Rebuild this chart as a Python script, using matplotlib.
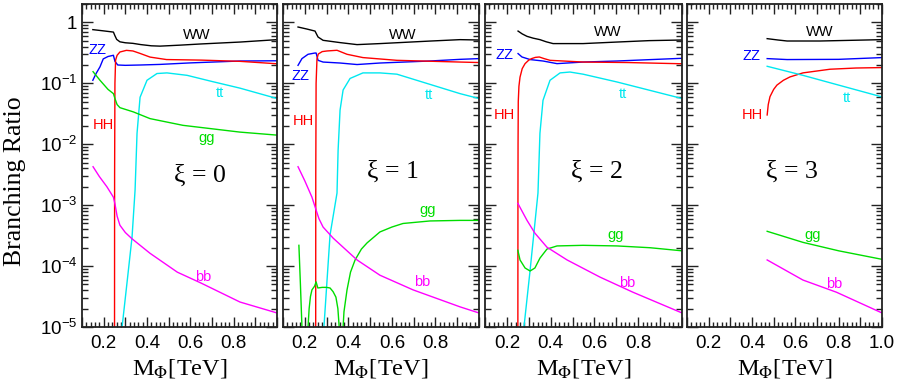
import matplotlib
matplotlib.use("Agg")
import matplotlib.pyplot as plt
from matplotlib.ticker import FixedLocator, MultipleLocator, FuncFormatter, LogLocator, NullFormatter
from matplotlib.font_manager import FontProperties

plt.rcParams['font.family'] = ['Liberation Sans', 'DejaVu Sans']
plt.rcParams['mathtext.fontset'] = 'custom'
plt.rcParams['mathtext.rm'] = 'Liberation Sans'
plt.rcParams['mathtext.it'] = 'Liberation Sans:italic'

# ---------------- data: xi = 0 ----------------
m0_ww = [0.15, 0.20, 0.245, 0.252, 0.26, 0.275, 0.30, 0.335, 0.37, 0.42, 0.46, 0.55, 0.65, 0.83, 1.0]
br0_ww = [0.759, 0.724, 0.692, 0.603, 0.525, 0.479, 0.462, 0.452, 0.432, 0.412, 0.407, 0.422, 0.442, 0.475, 0.52]
m0_zz = [0.15, 0.165, 0.183, 0.198, 0.22, 0.245, 0.252, 0.265, 0.30, 0.37, 0.46, 0.6, 0.83, 1.0]
br0_zz = [0.112, 0.1445, 0.186, 0.251, 0.275, 0.288, 0.229, 0.1995, 0.197, 0.1995, 0.204, 0.216, 0.232, 0.234]
m0_hh = [0.25, 0.2505, 0.252, 0.255, 0.262, 0.275, 0.305, 0.335, 0.368, 0.414, 0.49, 0.65, 0.83, 1.0]
br0_hh = [1e-6, 3.16e-3, 0.1, 0.24, 0.288, 0.326, 0.347, 0.339, 0.309, 0.269, 0.245, 0.24, 0.229, 0.209]
m0_tt = [0.285, 0.31, 0.331, 0.345, 0.354, 0.368, 0.40, 0.446, 0.492, 0.585, 0.70, 0.829, 1.0]
br0_tt = [1e-5, 6.3e-5, 3.0e-4, 1.78e-3, 0.0151, 0.0589, 0.112, 0.1445, 0.148, 0.135, 0.107, 0.0832, 0.0562]
m0_gg = [0.151, 0.183, 0.22, 0.245, 0.252, 0.262, 0.275, 0.337, 0.414, 0.566, 0.829, 1.0]
br0_gg = [0.155, 0.112, 0.0794, 0.0676, 0.0562, 0.0447, 0.0398, 0.0339, 0.0263, 0.0204, 0.0158, 0.0141]
m0_bb = [0.151, 0.18, 0.215, 0.245, 0.252, 0.262, 0.275, 0.30, 0.33, 0.414, 0.54, 0.65, 0.829, 1.0]
br0_bb = [4.27e-3, 2.95e-3, 2.0e-3, 1.35e-3, 1.05e-3, 6.6e-4, 4.68e-4, 3.55e-4, 2.82e-4, 1.62e-4, 7.94e-5, 5.25e-5, 2.57e-5, 1.7e-5]

# ---------------- data: xi = 1 ----------------
m1_ww = [0.169, 0.21, 0.247, 0.255, 0.261, 0.284, 0.362, 0.44, 0.545, 0.775, 0.913, 1.0]
br1_ww = [0.838, 0.776, 0.719, 0.631, 0.574, 0.507, 0.465, 0.431, 0.448, 0.493, 0.52, 0.513]
m1_zz = [0.169, 0.187, 0.215, 0.245, 0.252, 0.261, 0.284, 0.362, 0.44, 0.545, 0.775, 0.913, 1.0]
br1_zz = [0.197, 0.254, 0.299, 0.313, 0.314, 0.238, 0.223, 0.215, 0.203, 0.215, 0.232, 0.247, 0.254]
m1_hh = [0.25, 0.2505, 0.252, 0.256, 0.262, 0.28, 0.302, 0.348, 0.394, 0.467, 0.623, 0.913, 1.0]
br1_hh = [1e-6, 3.16e-3, 0.1, 0.251, 0.302, 0.331, 0.339, 0.348, 0.299, 0.264, 0.238, 0.223, 0.219]
m1_tt = [0.288, 0.316, 0.348, 0.353, 0.362, 0.376, 0.408, 0.467, 0.545, 0.623, 0.913, 1.0]
br1_tt = [1e-5, 3.24e-4, 1.58e-3, 7.94e-3, 0.0363, 0.0776, 0.120, 0.148, 0.148, 0.141, 0.0676, 0.0562]
m1_gg = [0.173, 0.18, 0.187, 0.20, 0.215, 0.22, 0.226, 0.233, 0.245, 0.252, 0.26, 0.28, 0.30, 0.316,
         0.33, 0.343, 0.352, 0.358, 0.365, 0.376, 0.38, 0.394, 0.41, 0.431, 0.46, 0.486, 0.545, 0.60,
         0.651, 0.775, 0.913, 1.0]
br1_gg = [2.19e-4, 5.0e-5, 1e-5, 1e-7, 1e-5, 2.0e-5, 3.16e-5, 4.07e-5, 4.68e-5, 5.5e-5, 4.37e-5, 4.47e-5,
          4.47e-5, 4.37e-5, 3.8e-5, 3.09e-5, 2.0e-5, 1e-5, 1e-7, 1e-5, 1.78e-5, 4.07e-5, 7.94e-5,
          1.26e-4, 1.9e-4, 2.4e-4, 3.63e-4, 4.37e-4, 5.0e-4, 5.5e-4, 5.62e-4, 5.62e-4]
m1_bb = [0.169, 0.20, 0.233, 0.252, 0.265, 0.284, 0.33, 0.44, 0.545, 0.697, 0.913, 1.0]
br1_bb = [4.27e-3, 2.51e-3, 1.35e-3, 8.3e-4, 6.0e-4, 4.37e-4, 2.88e-4, 1.26e-4, 7.08e-5, 4.07e-5, 2.14e-5, 1.7e-5]

# ---------------- data: xi = 2 ----------------
m2_ww = [0.251, 0.27, 0.292, 0.32, 0.351, 0.38, 0.411, 0.548, 0.703, 0.85, 1.0]
br2_ww = [0.719, 0.646, 0.589, 0.55, 0.52, 0.479, 0.448, 0.448, 0.475, 0.501, 0.513]
m2_zz = [0.251, 0.269, 0.306, 0.365, 0.429, 0.548, 0.703, 1.0]
br2_zz = [0.307, 0.27, 0.245, 0.232, 0.21, 0.223, 0.232, 0.257]
m2_hh = [0.250, 0.2505, 0.251, 0.252, 0.255, 0.26, 0.27, 0.283, 0.30, 0.313, 0.33, 0.348, 0.37, 0.397, 0.55, 0.75, 1.0]
br2_hh = [1e-6, 1e-3, 0.01, 0.0501, 0.0891, 0.126, 0.174, 0.21, 0.24, 0.254, 0.266, 0.27, 0.254, 0.238, 0.223, 0.219, 0.209]
m2_tt = [0.278, 0.306, 0.342, 0.351, 0.365, 0.397, 0.443, 0.488, 0.548, 0.703, 1.0]
br2_tt = [1e-5, 8.5e-5, 1.58e-3, 0.0151, 0.0525, 0.112, 0.148, 0.153, 0.141, 0.105, 0.0562]
m2_gg = [0.25, 0.26, 0.283, 0.306, 0.328, 0.351, 0.383, 0.429, 0.548, 0.703, 0.854, 1.0]
br2_gg = [1.82e-4, 1.26e-4, 9.3e-5, 8.3e-5, 9.3e-5, 1.35e-4, 1.9e-4, 2.14e-4, 2.19e-4, 2.14e-4, 2.0e-4, 1.78e-4]
m2_bb = [0.25, 0.292, 0.328, 0.383, 0.475, 0.625, 0.776, 1.0]
br2_bb = [1.07e-3, 5.62e-4, 3.47e-4, 2.04e-4, 1.26e-4, 6.6e-5, 3.72e-5, 1.7e-5]

# ---------------- data: xi = 3 ----------------
m3_ww = [0.47, 0.52, 0.562, 0.714, 1.0]
br3_ww = [0.54, 0.513, 0.494, 0.494, 0.52]
m3_zz = [0.47, 0.562, 0.80, 1.0]
br3_zz = [0.254, 0.245, 0.247, 0.264]
m3_hh = [0.47, 0.475, 0.483, 0.50, 0.515, 0.545, 0.575, 0.635, 0.76, 0.88, 1.0]
br3_hh = [0.0302, 0.0447, 0.0603, 0.0794, 0.0933, 0.112, 0.127, 0.148, 0.17, 0.178, 0.181]
m3_tt = [0.47, 0.635, 0.80, 1.0]
br3_tt = [0.19, 0.135, 0.0933, 0.0597]
m3_gg = [0.47, 0.635, 0.80, 1.0]
br3_gg = [3.72e-4, 2.45e-4, 1.78e-4, 1.29e-4]
m3_bb = [0.47, 0.635, 0.79, 1.0]
br3_bb = [1.26e-4, 5.9e-5, 3.72e-5, 1.7e-5]

xi_labels = [r"ξ = 0", r"ξ = 1", r"ξ = 2", r"ξ = 3"]
channel_names = ["WW", "ZZ", "HH", "tt", "gg", "bb"]
channel_colors = ["black", "#0000ff", "#ff0000", "#00e8f0", "#00dd00", "#ff00ff"]
ytick_vals = [1e-5, 1e-4, 1e-3, 1e-2, 1e-1, 1]
ytick_text = [r"$10^{-5}$", r"$10^{-4}$", r"$10^{-3}$", r"$10^{-2}$", r"$10^{-1}$", "1"]

panel_data = [
    [(m0_ww, br0_ww), (m0_zz, br0_zz), (m0_hh, br0_hh), (m0_tt, br0_tt), (m0_gg, br0_gg), (m0_bb, br0_bb)],
    [(m1_ww, br1_ww), (m1_zz, br1_zz), (m1_hh, br1_hh), (m1_tt, br1_tt), (m1_gg, br1_gg), (m1_bb, br1_bb)],
    [(m2_ww, br2_ww), (m2_zz, br2_zz), (m2_hh, br2_hh), (m2_tt, br2_tt), (m2_gg, br2_gg), (m2_bb, br2_bb)],
    [(m3_ww, br3_ww), (m3_zz, br3_zz), (m3_hh, br3_hh), (m3_tt, br3_tt), (m3_gg, br3_gg), (m3_bb, br3_bb)],
]

# label positions (axes fractions) per panel: WW, ZZ, HH, tt, gg, bb, xi
label_pos = [
    [(0.59, 0.904), (0.082, 0.858), (0.108, 0.625), (0.708, 0.724), (0.641, 0.585), (0.62, 0.155), (0.605, 0.47)],
    [(0.612, 0.904), (0.087, 0.777), (0.102, 0.638), (0.745, 0.718), (0.74, 0.362), (0.709, 0.139), (0.561, 0.48)],
    [(0.624, 0.913), (0.10, 0.842), (0.10, 0.656), (0.70, 0.721), (0.665, 0.285), (0.721, 0.136), (0.569, 0.48)],
    [(0.682, 0.913), (0.333, 0.839), (0.333, 0.656), (0.82, 0.709), (0.646, 0.285), (0.754, 0.133), (0.538, 0.48)],
]

W, H = 900, 390
fig = plt.figure(figsize=(W / 100, H / 100), dpi=100)
panels_px = [(82, 195), (283, 196), (485, 197), (687, 195)]
top_px, bot_px = 4, 327

serif_big = FontProperties(family=['Liberation Serif', 'DejaVu Serif'], size=17.5, math_fontfamily='stix')
serif_ylab = FontProperties(family=['Liberation Serif', 'DejaVu Serif'], size=18.5)

for i, (l, w) in enumerate(panels_px):
    ax = fig.add_axes([l / W, (H - bot_px) / H, w / W, (bot_px - top_px) / H])
    ax.set_yscale('log')
    for (mm, bb), col in zip(panel_data[i], channel_colors):
        ax.plot(mm, bb, color=col, lw=1.0)
    ax.set_xlim(0.1, 1.0)
    ax.set_ylim(1e-5, 2.0)

    ax.xaxis.set_major_locator(MultipleLocator(0.1))
    ax.xaxis.set_minor_locator(MultipleLocator(0.02))
    show = {2, 4, 6, 8} if i < 3 else {2, 4, 6, 8, 10}
    ax.xaxis.set_major_formatter(FuncFormatter(
        lambda v, p, s=show: (f"{v:.1f}" if int(round(v * 10)) in s else "")))
    ax.yaxis.set_major_locator(FixedLocator(ytick_vals))
    ax.yaxis.set_minor_locator(LogLocator(base=10, subs=range(2, 10), numticks=20))
    ax.yaxis.set_minor_formatter(NullFormatter())
    if i == 0:
        ax.set_yticklabels(ytick_text)
    else:
        ax.set_yticklabels([])
    ax.tick_params(axis='both', which='both', direction='in', top=True, right=True, labelsize=13.5,
                   width=1.0, colors='#222222', labelcolor='black')
    ax.tick_params(axis='y', which='major', length=8)
    ax.tick_params(axis='y', which='minor', length=4)
    ax.tick_params(axis='x', which='major', length=7, pad=6)
    ax.tick_params(axis='x', which='minor', length=3.5)
    for sp in ax.spines.values():
        sp.set_linewidth(1.3)
        sp.set_color('#222222')

    ax.set_xlabel(r"M$_\Phi$[TeV]", fontproperties=serif_big, labelpad=3)

    for name, col, (fx, fy) in zip(channel_names, channel_colors, label_pos[i][:6]):
        ax.text(fx, fy, name, color=col, fontsize=10.5, ha='center', va='center', transform=ax.transAxes)
    fx, fy = label_pos[i][6]
    ax.text(fx, fy, xi_labels[i], fontproperties=FontProperties(family=['Liberation Serif', 'DejaVu Serif'], size=18.5),
            ha='center', va='center', transform=ax.transAxes)

fig.text(15 / W, 1 - 181 / H, "Branching Ratio", fontproperties=serif_ylab, rotation=90,
         ha='center', va='center')

fig.savefig("out.png", dpi=100)
